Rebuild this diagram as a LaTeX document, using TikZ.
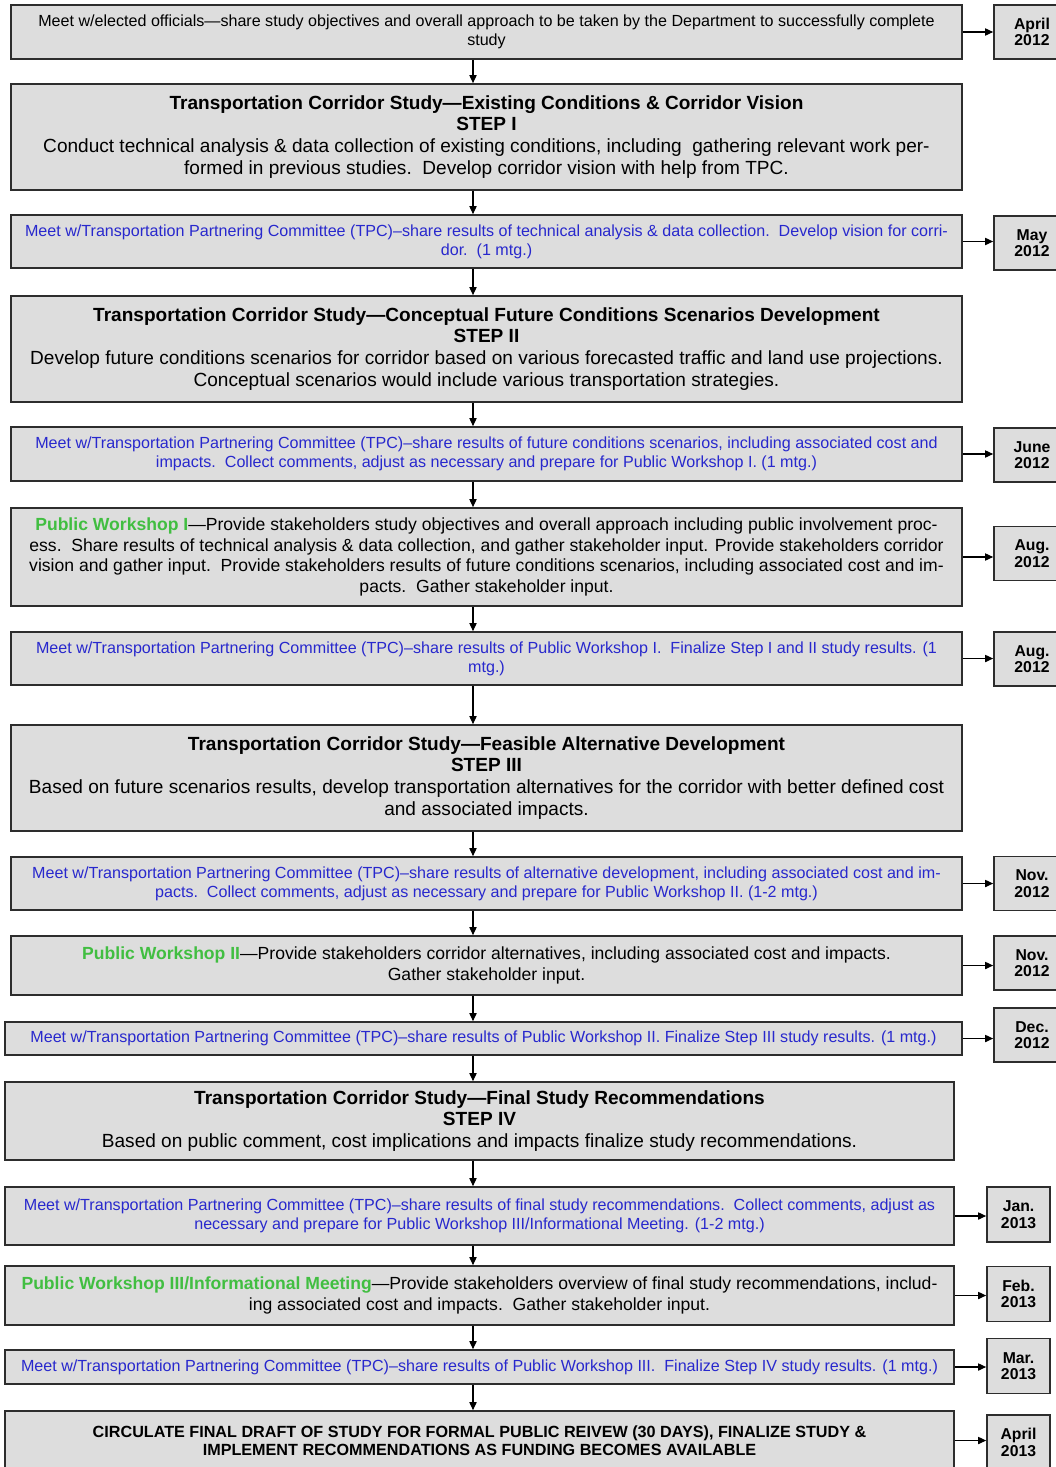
\documentclass[tikz,border=0pt]{standalone}
\usepackage{fontspec}
\setmainfont{Liberation Sans}
\usetikzlibrary{arrows.meta}
\definecolor{boxgray}{RGB}{221,221,221}
\definecolor{edgegray}{RGB}{45,45,45}
\definecolor{tpcblue}{RGB}{40,40,205}
\definecolor{pwgreen}{RGB}{65,190,65}
\newcommand{\pw}[1]{\textcolor{pwgreen}{\textbf{#1}}}

\begin{document}
\begin{tikzpicture}[x=0.025cm, y=-0.025cm,
    every node/.style={rectangle, draw=edgegray, line width=1.2pt, fill=boxgray, align=center, inner sep=2pt},
    txtsmall/.style={font=\fontsize{11.45}{13.5}\selectfont},
    tpc/.style={txtsmall, text=tpcblue},
    txtmid/.style={font=\fontsize{12.5}{14.5}\selectfont},
    txtbig/.style={font=\fontsize{13.55}{15.6}\selectfont},
    datebox/.style={font=\fontsize{11.2}{11.6}\selectfont\bfseries, minimum width=1.9cm, minimum height=1.35cm},
    datelow/.style={datebox, minimum width=1.575cm, minimum height=1.375cm},
    flow/.style={line width=0.8pt, draw=black, -{Triangle[length=2mm,width=1.8mm]}}]
    \useasboundingbox (0,0) rectangle (1056,1467);
    \clip (0,0) rectangle (1056,1467);
    \fill[white] (0,0) rectangle (1056,1467);
    \coordinate (spine) at (473,0);

    % Upper half of the flow
    \node[txtsmall, minimum width=23.775cm, minimum height=1.35cm] (b1) at (486.5,32) {Meet w/elected officials—share study objectives and overall approach to be taken by the Department to successfully complete\\study};
    \node[txtbig, minimum width=23.775cm, minimum height=2.65cm] (b2) at (486.5,137) {\textbf{Transportation Corridor Study—Existing Conditions \& Corridor Vision}\\\textbf{STEP I}\\Conduct technical analysis \& data collection of existing conditions, including\ \ gathering relevant work per-\\formed in previous studies.\ \ Develop corridor vision with help from TPC.};
    \node[tpc, minimum width=23.775cm, minimum height=1.325cm] (b3) at (486.5,241.5) {Meet w/Transportation Partnering Committee (TPC)–share results of technical analysis \& data collection.\ \ Develop vision for corri-\\dor.\ \ (1 mtg.)};
    \node[txtbig, minimum width=23.775cm, minimum height=2.65cm] (b4) at (486.5,349) {\textbf{Transportation Corridor Study—Conceptual Future Conditions Scenarios Development}\\\textbf{STEP II}\\Develop future conditions scenarios for corridor based on various forecasted traffic and land use projections.\\Conceptual scenarios would include various transportation strategies.};
    \node[tpc, minimum width=23.775cm, minimum height=1.35cm] (b5) at (486.5,454) {Meet w/Transportation Partnering Committee (TPC)–share results of future conditions scenarios, including associated cost and\\impacts.\ \ Collect comments, adjust as necessary and prepare for Public Workshop I. (1 mtg.)};
    \node[txtmid, minimum width=23.775cm, minimum height=2.45cm] (b6) at (486.5,557) {\pw{Public Workshop I}—Provide stakeholders study objectives and overall approach including public involvement proc-\\ess.\ \ Share results of technical analysis \& data collection, and gather stakeholder input. Provide stakeholders corridor\\vision and gather input.\ \ Provide stakeholders results of future conditions scenarios, including associated cost and im-\\pacts.\ \ Gather stakeholder input.};
    \node[tpc, minimum width=23.775cm, minimum height=1.325cm] (b7) at (486.5,658.5) {Meet w/Transportation Partnering Committee (TPC)–share results of Public Workshop I.\ \ Finalize Step I and II study results. (1\\mtg.)};
    \node[txtbig, minimum width=23.775cm, minimum height=2.65cm] (b8) at (486.5,778) {\textbf{Transportation Corridor Study—Feasible Alternative Development}\\\textbf{STEP III}\\Based on future scenarios results, develop transportation alternatives for the corridor with better defined cost\\and associated impacts.};
    \node[tpc, minimum width=23.775cm, minimum height=1.325cm] (b9) at (486.5,883.5) {Meet w/Transportation Partnering Committee (TPC)–share results of alternative development, including associated cost and im-\\pacts.\ \ Collect comments, adjust as necessary and prepare for Public Workshop II. (1-2 mtg.)};
    \node[txtmid, minimum width=23.775cm, minimum height=1.475cm] (b10) at (486.5,965.5) {\pw{Public Workshop II}—Provide stakeholders corridor alternatives, including associated cost and impacts.\\Gather stakeholder input.};
    \node[tpc, minimum width=23.925cm, minimum height=0.825cm] (b11) at (483.5,1038.5) {Meet w/Transportation Partnering Committee (TPC)–share results of Public Workshop II. Finalize Step III study results. (1 mtg.)};

    % Lower half of the flow
    \node[txtbig, minimum width=23.725cm, minimum height=1.95cm] (b12) at (479.5,1121) {\textbf{Transportation Corridor Study—Final Study Recommendations}\\\textbf{STEP IV}\\Based on public comment, cost implications and impacts finalize study recommendations.};
    \node[tpc, minimum width=23.725cm, minimum height=1.45cm] (b13) at (479.5,1216) {Meet w/Transportation Partnering Committee (TPC)–share results of final study recommendations.\ \ Collect comments, adjust as\\necessary and prepare for Public Workshop III/Informational Meeting. (1-2 mtg.)};
    \node[txtmid, minimum width=23.725cm, minimum height=1.475cm] (b14) at (479.5,1295.5) {\pw{Public Workshop III/Informational Meeting}—Provide stakeholders overview of final study recommendations, includ-\\ing associated cost and impacts.\ \ Gather stakeholder input.};
    \node[tpc, minimum width=23.725cm, minimum height=0.85cm] (b15) at (479.5,1367) {Meet w/Transportation Partnering Committee (TPC)–share results of Public Workshop III.\ \ Finalize Step IV study results. (1 mtg.)};
    \node[font=\fontsize{11.5}{12.8}\selectfont\bfseries, minimum width=23.725cm, minimum height=1.475cm] (b16) at (479.5,1440.5) {CIRCULATE FINAL DRAFT OF STUDY FOR FORMAL PUBLIC REIVEW (30 DAYS), FINALIZE STUDY \&\\IMPLEMENT RECOMMENDATIONS AS FUNDING BECOMES AVAILABLE};

    % Dates
    \node[datebox] (d1) at (1032,32) {April\\2012};
    \node[datebox] (d3) at (1032,243) {May\\2012};
    \node[datebox] (d5) at (1032,455) {June\\2012};
    \node[datebox] (d6) at (1032,553.5) {Aug.\\2012};
    \node[datebox] (d7) at (1032,659) {Aug.\\2012};
    \node[datebox] (d9) at (1032,883.5) {Nov.\\2012};
    \node[datebox] (d10) at (1032,963) {Nov.\\2012};
    \node[datebox] (d11) at (1032,1035) {Dec.\\2012};
    \node[datelow] (d13) at (1018.5,1214.5) {Jan.\\2013};
    \node[datelow] (d14) at (1018.5,1294) {Feb.\\2013};
    \node[datelow] (d15) at (1018.5,1366) {Mar.\\2013};
    \node[datelow] (d16) at (1018.5,1442.5) {April\\2013};

    % Arrows down the spine
    \foreach \a/\b in {b1/b2, b2/b3, b3/b4, b4/b5, b5/b6, b6/b7, b7/b8, b8/b9, b9/b10, b10/b11, b11/b12, b12/b13, b13/b14, b14/b15, b15/b16}
        \draw[flow] (\a.south -| spine) -- (\b.north -| spine);

    % Arrows out to the dates
    \foreach \n in {1, 3, 5, 6, 7, 9, 10, 11, 13, 14, 15, 16}
        \draw[flow] (b\n.east) -- (b\n.east -| d\n.west);
\end{tikzpicture}
\end{document}
